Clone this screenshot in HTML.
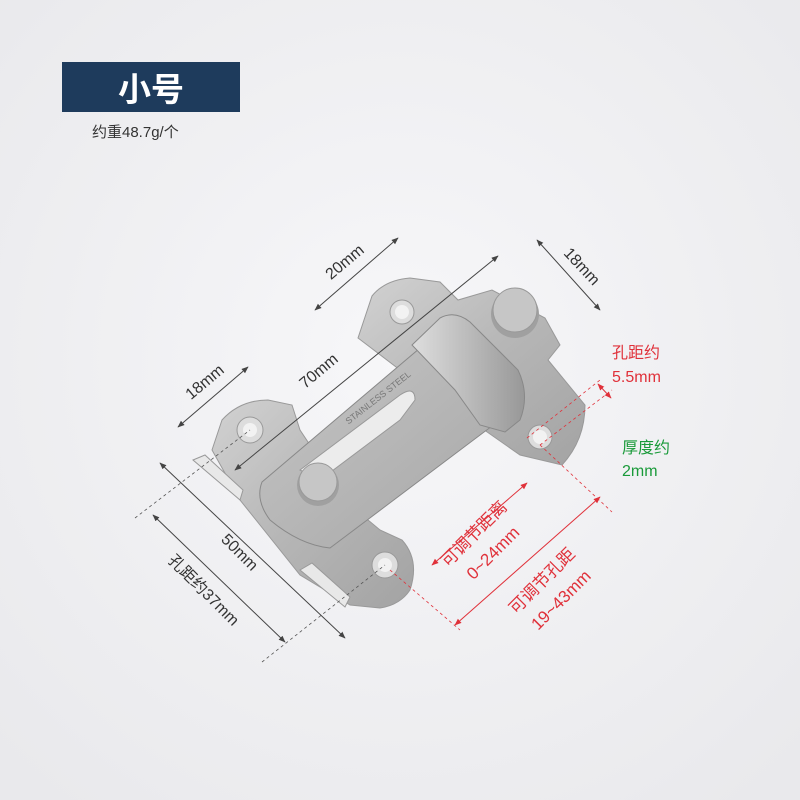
<!DOCTYPE html>
<html><head><meta charset="utf-8"><style>
html,body{margin:0;padding:0}
body{width:800px;height:800px;overflow:hidden;background:#f1f1f3;font-family:"Liberation Sans","Noto Sans CJK SC",sans-serif}
</style></head><body>
<svg width="800" height="800" viewBox="0 0 800 800" xmlns="http://www.w3.org/2000/svg" style="position:absolute;left:0;top:0">
<defs>
<radialGradient id="bg" cx="50%" cy="45%" r="70%"><stop offset="0" stop-color="#f7f7f9"/><stop offset="1" stop-color="#e9e9ec"/></radialGradient>
<linearGradient id="m1" x1="0" y1="0" x2="1" y2="1"><stop offset="0" stop-color="#d2d2d2"/><stop offset="0.5" stop-color="#b6b6b6"/><stop offset="1" stop-color="#a3a3a3"/></linearGradient>
<linearGradient id="m2" x1="0" y1="0" x2="1" y2="1"><stop offset="0" stop-color="#c6c6c6"/><stop offset="1" stop-color="#a6a6a6"/></linearGradient>
<linearGradient id="m3" x1="0" y1="0" x2="1" y2="0"><stop offset="0" stop-color="#dedede"/><stop offset="1" stop-color="#989898"/></linearGradient>
<marker id="a" viewBox="0 0 10 10" refX="9" refY="5" markerWidth="7" markerHeight="7" orient="auto-start-reverse"><path d="M0,1 L10,5 L0,9 z" fill="#444"/></marker>
<marker id="r" viewBox="0 0 10 10" refX="9" refY="5" markerWidth="7" markerHeight="7" orient="auto-start-reverse"><path d="M0,1 L10,5 L0,9 z" fill="#e0313a"/></marker>
</defs>
<rect width="800" height="800" fill="url(#bg)"/>
<rect x="62" y="62" width="178" height="50" fill="#1e3b5c"/>
<text x="151" y="101" font-size="33" fill="#fff" text-anchor="middle" font-weight="bold">小号</text>
<text x="92" y="137" font-size="15" fill="#333">约重48.7g/个</text>

<!-- upper plate -->
<path d="M358,338 L372,296 Q385,280 410,278 L440,282 L458,300 L492,290 L545,318 L560,345 L548,360 L585,405 Q585,440 562,465 L520,455 L470,420 L400,370 Z" fill="url(#m1)" stroke="#999" stroke-width="1"/>
<circle cx="402" cy="312" r="12" fill="#ddd" stroke="#999"/><circle cx="402" cy="312" r="7" fill="#f2f2f2"/>
<circle cx="540" cy="437" r="12" fill="#ddd" stroke="#999"/><circle cx="540" cy="437" r="7" fill="#f2f2f2"/>
<!-- lower plate -->
<path d="M212,450 L222,420 Q240,400 268,400 L292,405 L300,430 L350,505 L380,530 L402,540 Q420,560 410,590 Q400,605 380,608 L350,605 L300,575 L240,500 Z" fill="url(#m1)" stroke="#999"/>
<polygon points="193,460 205,455 243,490 240,500" fill="#e8e8e8" stroke="#999"/>
<polygon points="300,570 312,563 350,597 345,607" fill="#e8e8e8" stroke="#999"/>
<circle cx="250" cy="430" r="13" fill="#ddd" stroke="#999"/><circle cx="250" cy="430" r="7" fill="#f2f2f2"/>
<circle cx="385" cy="565" r="13" fill="#ddd" stroke="#999"/><circle cx="385" cy="565" r="7" fill="#f2f2f2"/>
<!-- bar -->
<path d="M262,482 L420,348 L500,420 L330,548 Q300,545 270,520 Q255,500 262,482 Z" fill="url(#m2)" stroke="#888"/>
<path d="M300,470 L400,395 Q415,385 415,400 L400,420 L320,480 Z" fill="#ececec" stroke="#999"/>
<text x="380" y="400" font-size="9" fill="#777" transform="rotate(-38 380 400)" text-anchor="middle">STAINLESS STEEL</text>
<!-- keeper -->
<path d="M412,345 L440,318 Q455,310 470,322 L518,370 Q530,395 520,420 L505,432 L480,425 L455,390 Z" fill="url(#m3)" stroke="#888"/>
<!-- pins -->
<circle cx="318" cy="485" r="21" fill="#a0a0a0"/><circle cx="318" cy="482" r="19" fill="#c6c6c6" stroke="#999"/>
<circle cx="515" cy="314" r="24" fill="#a0a0a0"/><circle cx="515" cy="310" r="22" fill="#c6c6c6" stroke="#999"/>

<!-- dimension lines -->
<g stroke="#444" stroke-width="1" fill="none">
<line x1="315" y1="310" x2="398" y2="238" marker-start="url(#a)" marker-end="url(#a)"/>
<line x1="537" y1="240" x2="600" y2="310" marker-start="url(#a)" marker-end="url(#a)"/>
<line x1="235" y1="470" x2="498" y2="256" marker-start="url(#a)" marker-end="url(#a)"/>
<line x1="178" y1="427" x2="248" y2="367" marker-start="url(#a)" marker-end="url(#a)"/>
<line x1="160" y1="463" x2="345" y2="638" marker-start="url(#a)" marker-end="url(#a)"/>
<line x1="153" y1="515" x2="285" y2="642" marker-start="url(#a)" marker-end="url(#a)"/>
</g>
<g stroke="#555" stroke-width="0.8" stroke-dasharray="3,3" fill="none">
<line x1="135" y1="518" x2="250" y2="430"/><line x1="262" y1="662" x2="385" y2="565"/>
</g>
<g font-size="16" fill="#333" text-anchor="middle">
<text transform="translate(348,266) rotate(-40)">20mm</text>
<text transform="translate(578,270) rotate(47)">18mm</text>
<text transform="translate(322,375) rotate(-40)">70mm</text>
<text transform="translate(208,386) rotate(-40)">18mm</text>
<text transform="translate(236,556) rotate(45)">50mm</text>
<text transform="translate(200,594) rotate(45)">孔距约37mm</text>
</g>
<!-- red -->
<g stroke="#e0313a" stroke-width="1" fill="none">
<line x1="432" y1="565" x2="527" y2="483" marker-start="url(#r)" marker-end="url(#r)"/>
<line x1="455" y1="625" x2="600" y2="497" marker-start="url(#r)" marker-end="url(#r)"/>
<line x1="598" y1="384" x2="611" y2="398" marker-start="url(#r)" marker-end="url(#r)"/>
<g stroke-dasharray="3,3" stroke-width="0.8">
<line x1="527" y1="438" x2="600" y2="380"/><line x1="540" y1="445" x2="612" y2="390"/>
<line x1="540" y1="445" x2="612" y2="512"/><line x1="390" y1="570" x2="460" y2="630"/>
</g>
</g>
<g font-size="17" fill="#e0313a" text-anchor="middle">
<text transform="translate(478,538) rotate(-45)">可调节距离</text>
<text transform="translate(497,557) rotate(-45)">0~24mm</text>
<text transform="translate(546,585) rotate(-45)">可调节孔距</text>
<text transform="translate(565,604) rotate(-45)">19~43mm</text>
<text x="612" y="358" text-anchor="start" font-size="16">孔距约</text>
<text x="612" y="382" text-anchor="start" font-size="16">5.5mm</text>
</g>
<g font-size="16" fill="#1a9a3a">
<text x="622" y="453">厚度约</text>
<text x="622" y="476">2mm</text>
</g>
</svg>
</body></html>
